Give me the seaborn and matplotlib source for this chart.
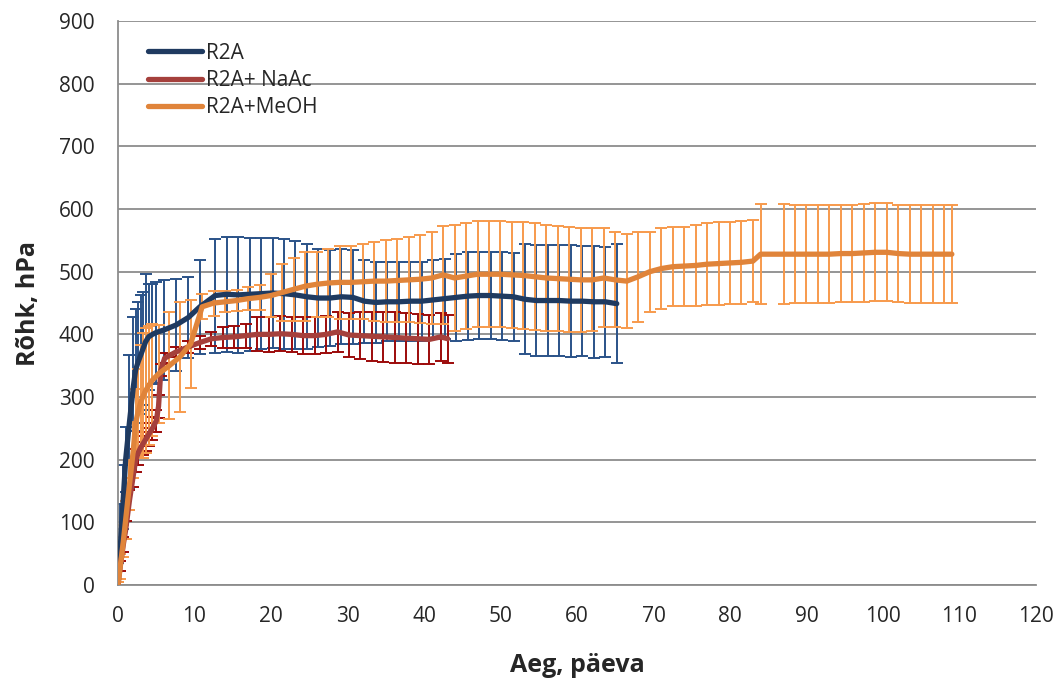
import matplotlib
matplotlib.use('Agg')
import matplotlib.pyplot as plt
import numpy as np
import pandas as pd
import seaborn as sns

# Data
# R2A
days_r2a = [0, 0.3, 0.7, 1, 1.5, 2, 2.3, 2.6, 3, 3.3, 3.6, 4, 4.5, 5, 6, 7.6, 9.2, 10.7, 12.7,
            14.2, 15.7, 17.2, 18.7, 20.2, 21.7, 23.2, 24.7, 26.2, 27.7, 29.2, 30.7, 32.2, 33.7,
            35.2, 36.7, 38.2, 39.7, 41.2, 42.7, 44.2, 45.7, 47.2, 48.7, 50.2, 51.7, 53.2, 54.7,
            56.2, 57.7, 59.2, 60.7, 62.2, 63.7, 65.2]
mean_r2a = [20, 60, 140, 200, 260, 316, 343, 355, 368, 378, 388, 396, 400, 403, 407, 415, 427, 444, 462,
            464, 463, 464, 465, 466, 465, 463, 460, 458, 458, 460, 459, 453, 451,
            452, 452, 453, 453, 455, 457, 459, 461, 462, 462, 461, 460, 456, 454,
            454, 454, 453, 453, 452, 452, 449]
sd_r2a = [15, 70, 51, 52, 107, 112, 97, 97, 95, 90, 108, 84, 80, 80, 80, 73, 65, 75, 91,
          92, 92, 90, 89, 88, 88, 86, 84, 78, 77, 76, 75, 66, 64,
          63, 63, 63, 63, 63, 64, 70, 70, 70, 70, 70, 70, 88, 89,
          89, 89, 89, 88, 89, 88, 95]

# R2A + NaAc
days_naac = [0, 0.3, 0.7, 1, 1.5, 2, 2.3, 2.6, 3, 3.3, 3.6, 4, 4.5, 5, 5.3, 5.6, 6.1, 7.6, 9.2,
             10.7, 12.2, 13.7, 15.2, 16.7, 18.2, 19.7, 21.2, 22.7, 24.2, 25.7, 27.2, 28.7, 30.2,
             31.7, 33.2, 34.7, 36.2, 37.7, 39.2, 40.7, 42.2, 43.1]
mean_naac = [0, 30, 65, 88, 135, 175, 199, 210, 220, 226, 232, 240, 250, 262, 285, 343, 362, 372, 380,
             387, 393, 395, 396, 398, 400, 400, 401, 400, 398, 398, 400, 404, 399,
             398, 397, 396, 395, 394, 393, 392, 396, 393]
sd_naac = [5, 8, 12, 14, 16, 18, 18, 18, 18, 18, 18, 18, 18, 18, 18, 10, 8, 8, 9,
           10, 11, 16, 18, 19, 27, 28, 28, 28, 29, 30, 30, 32, 35,
           37, 39, 40, 40, 40, 40, 39, 38, 38]

# R2A + MeOH
days_meoh = [0, 0.3, 0.7, 1, 1.5, 2, 2.3, 2.6, 3, 3.3, 3.6, 4, 4.5, 5.3, 6.7, 8.1, 9.5, 11, 12.5,
             14, 15.5, 17, 18.5, 20, 21.5, 23, 24.5, 26, 27.5, 29, 30.5, 32, 33.5, 35, 36.5,
             38, 39.5, 41, 42.5, 44, 45.5, 47, 48.5, 50, 51.5, 53, 54.5, 56, 57.5, 59, 60.5,
             62, 63.5, 65, 66.5, 68, 69.5, 71, 72.5, 74, 75.5, 77, 78.5, 80, 81.5, 83, 84,
             87, 88.5, 90, 91.5, 93, 94.5, 96, 97.5, 99, 100.5, 102, 103.5, 105, 106.5, 108, 109]
mean_meoh = [0, 30, 70, 104, 160, 215, 258, 275, 293, 302, 310, 318, 327, 337, 350, 364, 385, 444, 450,
             452, 454, 457, 459, 462, 467, 472, 477, 480, 482, 483, 483, 484, 485, 485, 486,
             487, 488, 490, 495, 490, 493, 496, 496, 496, 495, 494, 492, 490, 489, 488, 487,
             487, 490, 487, 485, 492, 500, 505, 508, 509, 510, 512, 513, 514, 515, 517, 528,
             528, 528, 528, 528, 528, 529, 529, 530, 531, 531, 529, 528, 528, 528, 528, 528]
sd_meoh = [5, 20, 25, 30, 40, 45, 55, 70, 90, 100, 100, 95, 90, 78, 85, 88, 70, 20, 20,
           17, 17, 18, 20, 35, 45, 50, 55, 52, 55, 58, 58, 60, 63, 65, 67,
           68, 70, 73, 78, 85, 85, 85, 85, 85, 85, 85, 85, 85, 84, 84, 83,
           82, 79, 76, 75, 72, 64, 64, 63, 63, 65, 65, 66, 66, 66, 65, 80,
           80, 78, 78, 78, 78, 78, 78, 78, 78, 78, 78, 78, 78, 78, 78, 78]

series = [
    ('R2A', days_r2a, mean_r2a, sd_r2a, '#1f3a60', '#2a5288'),
    ('R2A+ NaAc', days_naac, mean_naac, sd_naac, '#a5403c', '#9c0a0a'),
    ('R2A+MeOH', days_meoh, mean_meoh, sd_meoh, '#e0843a', '#f79a4c'),
]

# Plot
sns.set_style('white')
plt.rcParams['font.family'] = ['Open Sans', 'DejaVu Sans']
fig = plt.figure(figsize=(10.63, 6.81), dpi=100)
ax = fig.add_axes([0.111, 0.141, 0.8636, 0.828])

# error bars first, lines on top
for name, d, m, s, line_col, err_col in series:
    ax.errorbar(d, m, yerr=s, fmt='none', ecolor=err_col, elinewidth=1.4,
                capsize=4, capthick=1.4, zorder=2)

for name, d, m, s, line_col, err_col in series:
    df = pd.DataFrame({'Aeg': d, 'Rohk': m})
    sns.lineplot(x='Aeg', y='Rohk', data=df, color=line_col, linewidth=3.8,
                 label=name, ax=ax, zorder=3, solid_capstyle='round')

ax.set_xlim(0, 120)
ax.set_ylim(0, 900)
ax.set_xticks(np.arange(0, 121, 10))
ax.set_yticks(np.arange(0, 901, 100))
ax.yaxis.grid(True, color='#8c8c8c', linewidth=1.3)
ax.set_axisbelow(True)
for side in ['top', 'right']:
    ax.spines[side].set_visible(False)
for side in ['left', 'bottom']:
    ax.spines[side].set_color('#8c8c8c')
    ax.spines[side].set_linewidth(1.3)
ax.tick_params(axis='both', which='major', direction='out', length=7, width=1.3,
               color='#8c8c8c', labelsize=15)
ax.tick_params(axis='y', pad=10)
ax.tick_params(axis='x', pad=8)

ax.set_xlabel('Aeg, päeva', fontsize=18, fontweight='bold', labelpad=19)
ax.set_ylabel('Rõhk, hPa', fontsize=18, fontweight='bold', labelpad=13)

leg = ax.legend(loc='upper left', bbox_to_anchor=(0.012, 0.995), frameon=False,
                fontsize=15, handlelength=2.6, handletextpad=0.2, labelspacing=0.3)

plt.savefig('out.png', dpi=100)
